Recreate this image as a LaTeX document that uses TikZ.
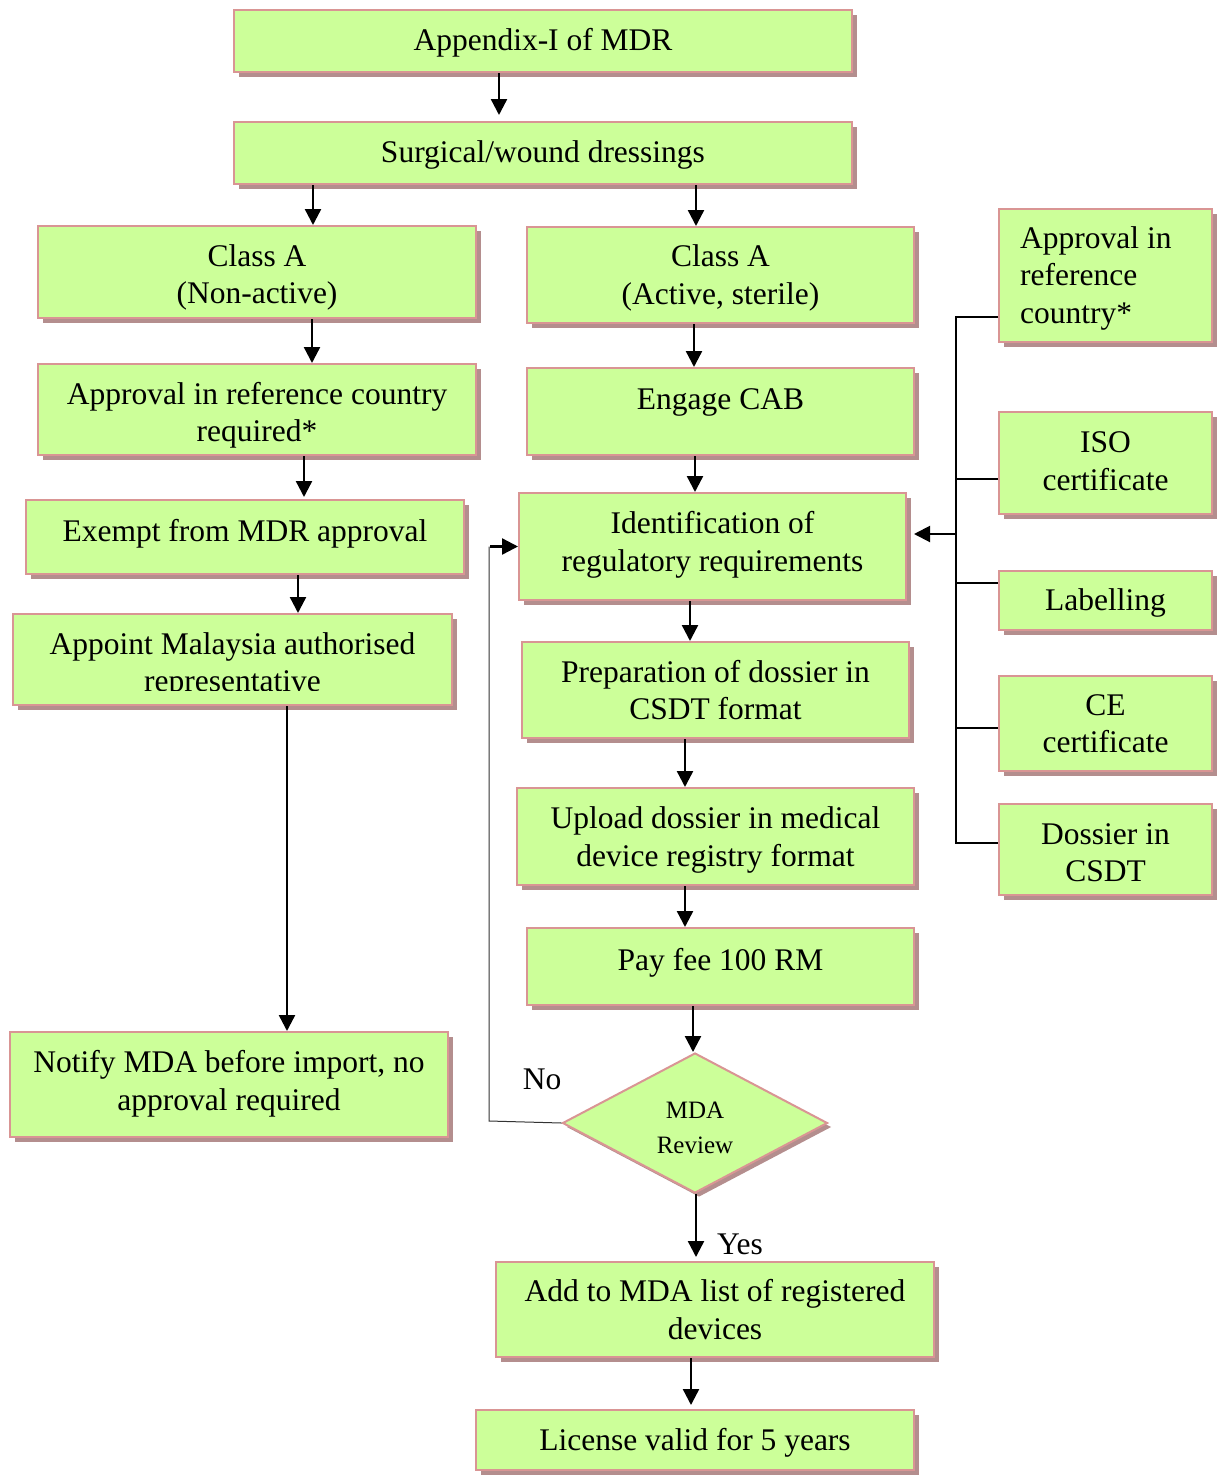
\documentclass[tikz,border=0pt]{standalone}
\usepackage{fontspec}
\setmainfont{Liberation Serif}
\usetikzlibrary{shapes.geometric,shadows,arrows.meta}
\definecolor{boxfill}{RGB}{204,255,153}
\definecolor{boxedge}{RGB}{217,149,148}
\definecolor{boxshade}{RGB}{180,142,142}
\newcommand\bodyfont{\fontsize{31.5}{37.5}\selectfont}
\newcommand\smallbodyfont{\fontsize{25}{35}\selectfont}

% a flow box: name, centre x, centre y, width, height, text offset, text
\newcommand\flowbox[7]{%
  \node[box, minimum width=#4pt, minimum height=#5pt] (#1) at (#2,#3) {};
  \node[txt] (#1-t) at (#2,#3+#6) {#7};}

\begin{document}
\begin{tikzpicture}[x=1pt,y=-1pt,
  box/.style={rectangle, draw=boxedge, line width=2pt, fill=boxfill,
    general shadow={fill=boxshade, shadow xshift=5pt, shadow yshift=-5pt},
    inner sep=0pt},
  decision/.style={diamond, draw=boxedge, line width=2pt, fill=boxfill,
    general shadow={fill=boxshade, shadow xshift=4pt, shadow yshift=-4pt},
    inner sep=0pt},
  txt/.style={inner sep=0pt, align=center, font=\bodyfont},
  arr/.style={line width=2.4pt, -{Triangle[width=16pt,length=16pt]}},
  thinline/.style={line width=1pt, black!80},
  bus/.style={line width=1.6pt}]

\useasboundingbox (0,0) rectangle (1222,1475);

% main column
\flowbox{appx}{543}{41}{618}{62}{2}{Appendix-I of MDR}
\flowbox{surg}{543}{153}{618}{62}{2}{Surgical/wound dressings}

% left branch: non-active devices
\flowbox{clsA}{257}{272}{438}{92}{5.5}{Class A\\(Non-active)}
\flowbox{refreq}{257}{409.5}{438}{91}{6}{Approval in reference country\\required*}
\flowbox{exempt}{245}{537}{438}{74}{-3}{Exempt from MDR approval}
\node[box, minimum width=439pt, minimum height=91pt] (appoint) at (232.5,659.5) {};
\begin{scope}
  \clip (13,614) rectangle (452,690);
  \node[txt] (appoint-t) at (232.5,665.5) {Appoint Malaysia authorised\\representative};
\end{scope}
\flowbox{notify}{229}{1084.5}{438}{105}{-1}{Notify MDA before import, no\\approval required}

% right branch: active, sterile devices
\flowbox{clsB}{720.5}{275}{387}{96}{3}{Class A\\(Active, sterile)}
\flowbox{cab}{720.5}{411.5}{387}{87}{-9.5}{Engage CAB}
\flowbox{ident}{712.5}{546.5}{387}{107}{-1.5}{Identification of\\regulatory requirements}
\flowbox{prep}{715.5}{690}{387}{96}{0}{Preparation of dossier in\\CSDT format}
\flowbox{upload}{715.5}{836.5}{397}{97}{3.5}{Upload dossier in medical\\device registry format}
\flowbox{fee}{720.5}{966.5}{387}{77}{-3.5}{Pay fee 100 RM}
\node[decision, minimum width=265pt, minimum height=140pt] (review) at (695,1123) {};
\node[inner sep=0pt, align=center, font=\smallbodyfont] (review-t) at (695,1128) {MDA\\Review};
\flowbox{addlist}{715}{1309.5}{438}{95}{0}{Add to MDA list of registered\\devices}
\flowbox{license}{695}{1440}{438}{60}{3}{License valid for 5 years}

% requirement boxes
\node[box, minimum width=213pt, minimum height=133pt] (r1) at (1105.5,275.5) {};
\node[txt, align=left, anchor=west] (r1-t) at (1020,278) {Approval in\\reference\\country*};
\flowbox{r2}{1105.5}{463}{213}{102}{-2}{ISO\\certificate}
\flowbox{r3}{1105.5}{600.5}{213}{59}{2}{Labelling}
\flowbox{r4}{1105.5}{723.5}{213}{95}{0}{CE\\certificate}
\flowbox{r5}{1105.5}{849.5}{213}{91}{3}{Dossier in\\CSDT}

% labels on the review outcome
\node[txt] (nolbl) at (542,1079) {No};
\node[txt] (yeslbl) at (740,1244) {Yes};

% arrow columns
\coordinate (a1) at (499,0);
\coordinate (a2) at (313,0);
\coordinate (a3) at (696,0);
\coordinate (a4) at (312,0);
\coordinate (a5) at (304,0);
\coordinate (a6) at (298,0);
\coordinate (a7) at (287,0);
\coordinate (a8) at (694,0);
\coordinate (a9) at (695,0);
\coordinate (a10) at (690,0);
\coordinate (a11) at (685,0);
\coordinate (a12) at (685,0);
\coordinate (a13) at (693,0);
\coordinate (a14) at (696,0);
\coordinate (a15) at (691,0);

\draw[arr, shorten >=6pt] (appx.south -| a1) -- (surg.north -| a1);
\draw[arr] (surg.south -| a2) -- (clsA.north -| a2);
\draw[arr] (surg.south -| a3) -- (clsB.north -| a3);
\draw[arr] (clsA.south -| a4) -- (refreq.north -| a4);
\draw[arr, shorten >=2pt] (refreq.south -| a5) -- (exempt.north -| a5);
\draw[arr] (exempt.south -| a6) -- (appoint.north -| a6);
\draw[arr] (appoint.south -| a7) -- (notify.north -| a7);
\draw[arr] (clsB.south -| a8) -- (cab.north -| a8);
\draw[arr] (cab.south -| a9) -- (ident.north -| a9);
\draw[arr] (ident.south -| a10) -- (prep.north -| a10);
\draw[arr] (prep.south -| a11) -- (upload.north -| a11);
\draw[arr] (upload.south -| a12) -- (fee.north -| a12);
\draw[arr] (fee.south -| a13) -- (review.north -| a13);
\draw[arr, shorten >=4pt] (review.south -| a14) -- (addlist.north -| a14);
\draw[arr, shorten >=4pt] (addlist.south -| a15) -- (license.north -| a15);

% rejected review loops back
\coordinate (loop) at (489,1121);
\coordinate (loopin) at (490,0);
\draw[thinline] (review.west) -- (loop) -- (loop |- ident.west);
\draw[arr] (ident.west -| loopin) -- (ident.west);

% requirement bus feeding the identification step
\coordinate (t1) at (956,317);
\coordinate (t2) at (956,479);
\coordinate (t3) at (956,583);
\coordinate (t4) at (956,728);
\coordinate (t5) at (956,843);
\coordinate (tin) at (956,534);
\draw[bus] (r1.west |- t1) -- (t1) -- (t5) -- (r5.west |- t5);
\draw[bus] (t2) -- (r2.west |- t2);
\draw[bus] (t3) -- (r3.west |- t3);
\draw[bus] (t4) -- (r4.west |- t4);
\draw[arr, line width=2pt, shorten >=7pt] (tin) -- (ident.east |- tin);

\end{tikzpicture}
\end{document}
